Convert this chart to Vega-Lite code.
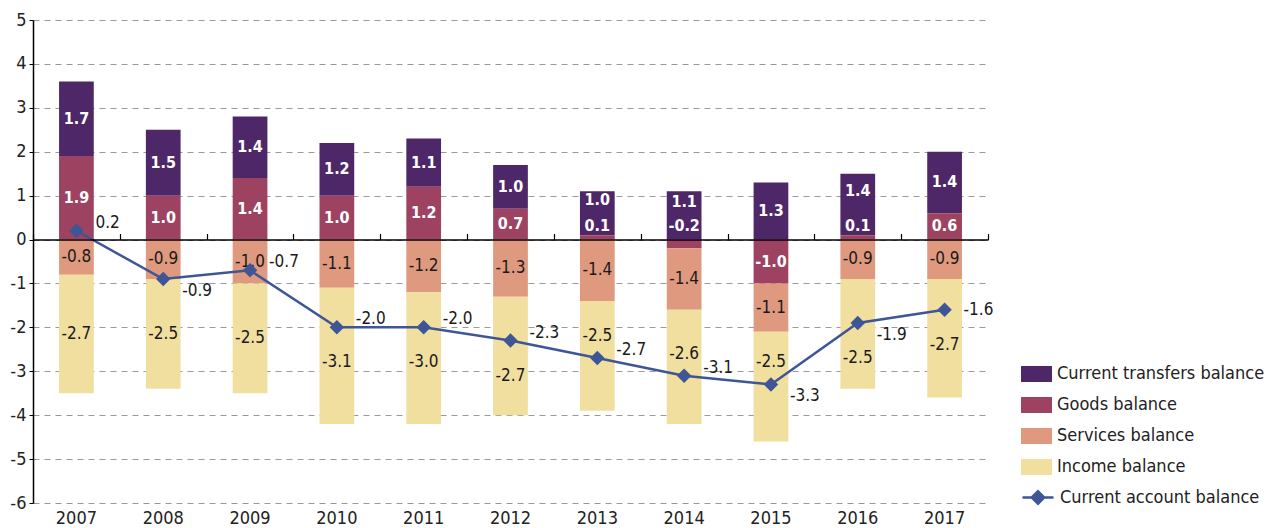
{
  "$schema": "https://vega.github.io/schema/vega-lite/v6.json",
  "width": 955,
  "height": 483,
  "autosize": {"type": "none"},
  "padding": {"left": 33, "top": 20, "right": 282, "bottom": 25},
  "config": {
    "locale": {"number": {"decimal": ".", "thousands": ",", "grouping": [3], "currency": ["", ""], "minus": "-"}},
    "view": {"stroke": null},
    "font": "DejaVu Sans Condensed, sans-serif",
    "axisY": {
      "grid": true, "gridDash": [6, 5], "gridColor": "#9a9a9a", "gridWidth": 1,
      "domainColor": "#000", "domainWidth": 1.5, "tickColor": "#000", "tickSize": 4,
      "labelFontSize": 18, "labelColor": "#222", "labelPadding": 3, "title": null
    }
  },
  "datasets": {
    "bars": [
      {"year": "2007", "component": "Current transfers balance", "value": 1.7, "ord": 1},
      {"year": "2007", "component": "Goods balance", "value": 1.9, "ord": 0},
      {"year": "2007", "component": "Services balance", "value": -0.8, "ord": 1},
      {"year": "2007", "component": "Income balance", "value": -2.7, "ord": 2},
      {"year": "2008", "component": "Current transfers balance", "value": 1.5, "ord": 1},
      {"year": "2008", "component": "Goods balance", "value": 1.0, "ord": 0},
      {"year": "2008", "component": "Services balance", "value": -0.9, "ord": 1},
      {"year": "2008", "component": "Income balance", "value": -2.5, "ord": 2},
      {"year": "2009", "component": "Current transfers balance", "value": 1.4, "ord": 1},
      {"year": "2009", "component": "Goods balance", "value": 1.4, "ord": 0},
      {"year": "2009", "component": "Services balance", "value": -1.0, "ord": 1},
      {"year": "2009", "component": "Income balance", "value": -2.5, "ord": 2},
      {"year": "2010", "component": "Current transfers balance", "value": 1.2, "ord": 1},
      {"year": "2010", "component": "Goods balance", "value": 1.0, "ord": 0},
      {"year": "2010", "component": "Services balance", "value": -1.1, "ord": 1},
      {"year": "2010", "component": "Income balance", "value": -3.1, "ord": 2},
      {"year": "2011", "component": "Current transfers balance", "value": 1.1, "ord": 1},
      {"year": "2011", "component": "Goods balance", "value": 1.2, "ord": 0},
      {"year": "2011", "component": "Services balance", "value": -1.2, "ord": 1},
      {"year": "2011", "component": "Income balance", "value": -3.0, "ord": 2},
      {"year": "2012", "component": "Current transfers balance", "value": 1.0, "ord": 1},
      {"year": "2012", "component": "Goods balance", "value": 0.7, "ord": 0},
      {"year": "2012", "component": "Services balance", "value": -1.3, "ord": 1},
      {"year": "2012", "component": "Income balance", "value": -2.7, "ord": 2},
      {"year": "2013", "component": "Current transfers balance", "value": 1.0, "ord": 1},
      {"year": "2013", "component": "Goods balance", "value": 0.1, "ord": 0},
      {"year": "2013", "component": "Services balance", "value": -1.4, "ord": 1},
      {"year": "2013", "component": "Income balance", "value": -2.5, "ord": 2},
      {"year": "2014", "component": "Current transfers balance", "value": 1.1, "ord": 1},
      {"year": "2014", "component": "Goods balance", "value": -0.2, "ord": 0},
      {"year": "2014", "component": "Services balance", "value": -1.4, "ord": 1},
      {"year": "2014", "component": "Income balance", "value": -2.6, "ord": 2},
      {"year": "2015", "component": "Current transfers balance", "value": 1.3, "ord": 1},
      {"year": "2015", "component": "Goods balance", "value": -1.0, "ord": 0},
      {"year": "2015", "component": "Services balance", "value": -1.1, "ord": 1},
      {"year": "2015", "component": "Income balance", "value": -2.5, "ord": 2},
      {"year": "2016", "component": "Current transfers balance", "value": 1.4, "ord": 1},
      {"year": "2016", "component": "Goods balance", "value": 0.1, "ord": 0},
      {"year": "2016", "component": "Services balance", "value": -0.9, "ord": 1},
      {"year": "2016", "component": "Income balance", "value": -2.5, "ord": 2},
      {"year": "2017", "component": "Current transfers balance", "value": 1.4, "ord": 1},
      {"year": "2017", "component": "Goods balance", "value": 0.6, "ord": 0},
      {"year": "2017", "component": "Services balance", "value": -0.9, "ord": 1},
      {"year": "2017", "component": "Income balance", "value": -2.7, "ord": 2}
    ],
    "ca": [
      {"year": "2007", "series": "Current account balance", "value": 0.2},
      {"year": "2008", "series": "Current account balance", "value": -0.9},
      {"year": "2009", "series": "Current account balance", "value": -0.7},
      {"year": "2010", "series": "Current account balance", "value": -2.0},
      {"year": "2011", "series": "Current account balance", "value": -2.0},
      {"year": "2012", "series": "Current account balance", "value": -2.3},
      {"year": "2013", "series": "Current account balance", "value": -2.7},
      {"year": "2014", "series": "Current account balance", "value": -3.1},
      {"year": "2015", "series": "Current account balance", "value": -3.3},
      {"year": "2016", "series": "Current account balance", "value": -1.9},
      {"year": "2017", "series": "Current account balance", "value": -1.6}
    ]
  },
  "layer": [
    {
      "data": {"name": "bars"},
      "mark": {"type": "bar", "width": {"band": 0.4}},
      "encoding": {
        "x": {"field": "year", "type": "ordinal", "scale": {"paddingInner": 0, "paddingOuter": 0},
          "axis": {"title": null, "domain": false, "ticks": false, "grid": false, "labelAngle": 0, "labelFontSize": 18, "labelColor": "#222", "labelPadding": 6}},
        "y": {"field": "value", "type": "quantitative", "stack": "zero", "title": null,
          "scale": {"domain": [-6, 5], "nice": false},
          "axis": {"values": [-6, -5, -4, -3, -2, -1, 0, 1, 2, 3, 4, 5], "format": "d"}},
        "order": {"field": "ord", "type": "quantitative"},
        "color": {"field": "component", "type": "nominal",
          "scale": {"domain": ["Current transfers balance", "Goods balance", "Services balance", "Income balance"],
                    "range": ["#4e2768", "#9d4260", "#de997e", "#f1dfa0"]},
          "legend": {"title": null, "orient": "none", "legendX": 988, "legendY": 338.5,
            "symbolType": "M-1,-0.516H1V0.516H-1Z", "symbolSize": 961, "symbolStrokeWidth": 0,
            "labelFontSize": 18, "labelColor": "#222", "labelOffset": 5, "labelLimit": 0, "rowPadding": 6, "padding": 0}}
      }
    },
    {
      "data": {"name": "bars"},
      "transform": [
        {"stack": "value", "groupby": ["year"], "sort": [{"field": "ord", "order": "ascending"}], "as": ["v0", "v1"]},
        {"calculate": "(datum.v0 + datum.v1) / 2", "as": "mid"},
        {"calculate": "datum.component === 'Goods balance' && abs(datum.value) < 0.3 ? 1 : 0", "as": "sg"},
        {"joinaggregate": [{"op": "max", "field": "sg", "as": "ysg"}], "groupby": ["year"]},
        {"calculate": "datum.sg === 1 ? 0.3 : (datum.component === 'Current transfers balance' && datum.ysg === 1 ? datum.mid + 0.3 : datum.mid)", "as": "ly"},
        {"filter": "datum.component === 'Current transfers balance' || datum.component === 'Goods balance'"}
      ],
      "mark": {"type": "text", "color": "#ffffff", "fontWeight": "bold", "fontSize": 16, "baseline": "middle", "align": "center"},
      "encoding": {
        "x": {"field": "year", "type": "ordinal", "axis": null},
        "y": {"field": "ly", "type": "quantitative", "title": null},
        "text": {"field": "value", "type": "quantitative", "format": ".1f"}
      }
    },
    {
      "data": {"name": "bars"},
      "transform": [
        {"stack": "value", "groupby": ["year"], "sort": [{"field": "ord", "order": "ascending"}], "as": ["v0", "v1"]},
        {"calculate": "(datum.v0 + datum.v1) / 2", "as": "mid"},
        {"lookup": "year", "from": {"data": {"name": "ca"}, "key": "year", "fields": ["value"]}, "as": ["ca"]},
        {"calculate": "datum.component === 'Income balance' && abs(datum.mid - datum.ca) < 0.8 ? (datum.ca > datum.mid + 0.1 ? datum.ca - 0.8 : datum.ca + 0.5) : datum.mid", "as": "ly"},
        {"filter": "datum.component === 'Services balance' || datum.component === 'Income balance'"}
      ],
      "mark": {"type": "text", "color": "#1a1a1a", "fontSize": 17, "baseline": "middle", "align": "center"},
      "encoding": {
        "x": {"field": "year", "type": "ordinal", "axis": null},
        "y": {"field": "ly", "type": "quantitative", "title": null},
        "text": {"field": "value", "type": "quantitative", "format": ".1f"}
      }
    },
    {
      "data": {"name": "ca"},
      "mark": {"type": "line", "strokeWidth": 2.5},
      "encoding": {
        "x": {"field": "year", "type": "ordinal",
          "axis": {"orient": "top", "offset": -219.5, "title": null, "labels": false, "grid": false,
            "domain": true, "domainColor": "#000", "domainWidth": 1.5,
            "ticks": true, "tickBand": "extent", "tickSize": 6, "tickColor": "#000", "tickWidth": 1.2, "zindex": 1}},
        "y": {"field": "value", "type": "quantitative", "title": null},
        "stroke": {"field": "series", "type": "nominal",
          "scale": {"range": ["#3e5596"]},
          "legend": {"title": null, "orient": "none", "legendX": 988, "legendY": 460.5,
            "symbolType": "M-1,0H1M-0.4,0L0,-0.4L0.4,0L0,0.4Z", "symbolSize": 961, "symbolStrokeWidth": 2.5,
            "symbolFillColor": "#3e5596", "labelFontSize": 18, "labelColor": "#222", "labelOffset": 5, "labelLimit": 0, "padding": 0}}
      }
    },
    {
      "data": {"name": "ca"},
      "mark": {"type": "point", "shape": "diamond", "filled": true, "size": 210, "color": "#3e5596", "opacity": 1},
      "encoding": {
        "x": {"field": "year", "type": "ordinal", "axis": null},
        "y": {"field": "value", "type": "quantitative", "title": null}
      }
    },
    {
      "data": {"name": "ca"},
      "transform": [
        {"window": [{"op": "lead", "field": "value", "as": "nextv"}], "sort": [{"field": "year", "order": "ascending"}]},
        {"calculate": "datum.nextv == null ? datum.value : (datum.nextv > datum.value ? datum.value - 0.27 : datum.value + 0.18)", "as": "ly"}
      ],
      "mark": {"type": "text", "color": "#1a1a1a", "fontSize": 17, "align": "left", "baseline": "middle", "dx": 19},
      "encoding": {
        "x": {"field": "year", "type": "ordinal", "axis": null},
        "y": {"field": "ly", "type": "quantitative", "title": null},
        "text": {"field": "value", "type": "quantitative", "format": ".1f"}
      }
    }
  ],
  "resolve": {"axis": {"x": "independent"}}
}
